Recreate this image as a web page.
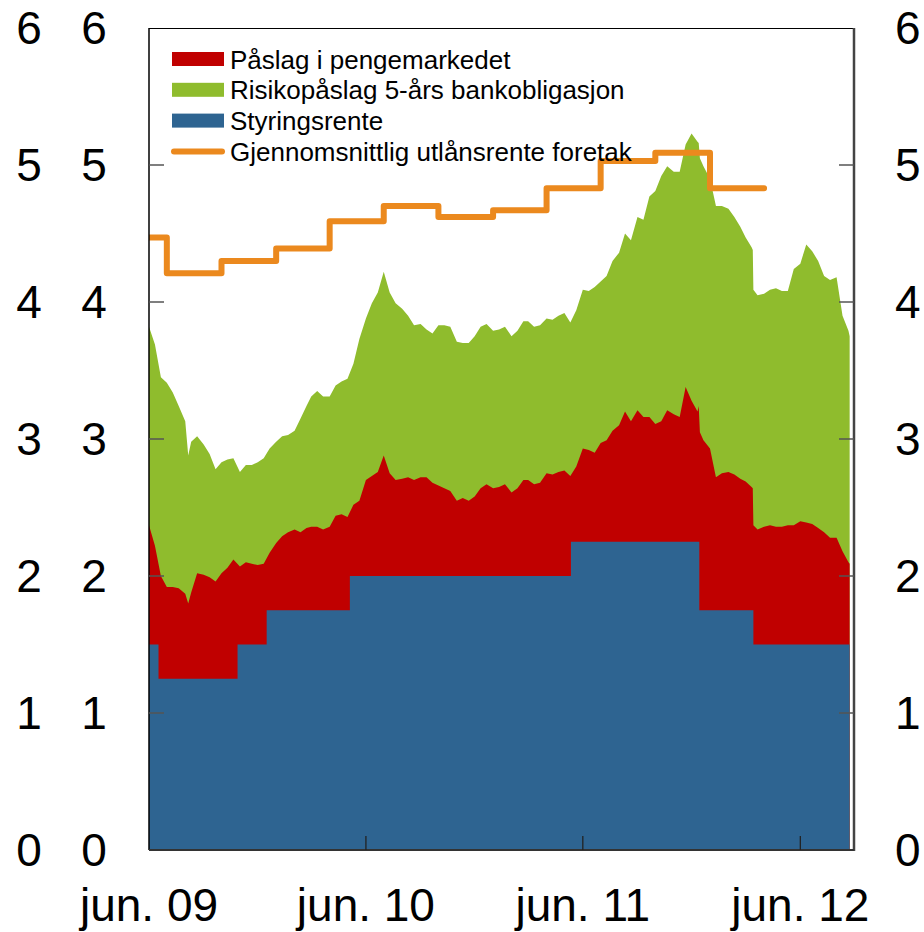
<!DOCTYPE html>
<html>
<head>
<meta charset="utf-8">
<script src="https://cdn.jsdelivr.net/npm/d3@7"></script>
<style>
  body { margin: 0; background: #fff; }
  svg { display: block; font-family: Arial, "Liberation Sans", sans-serif; }
</style>
</head>
<body>
<div id="chart"></div>
<script>
const sampleDates = [
  "2009-06-01","2009-06-11","2009-06-21","2009-07-01","2009-07-11","2009-07-21","2009-08-01","2009-08-06",
  "2009-08-11","2009-08-21","2009-09-01","2009-09-11","2009-09-21","2009-10-01","2009-10-11","2009-10-21",
  "2009-11-01","2009-11-11","2009-11-21","2009-12-01","2009-12-11","2009-12-21","2010-01-01","2010-01-11",
  "2010-01-21","2010-02-01","2010-02-11","2010-02-21","2010-03-01","2010-03-11","2010-03-21","2010-04-01",
  "2010-04-11","2010-04-21","2010-05-01","2010-05-11","2010-05-21","2010-06-01","2010-06-11","2010-06-21",
  "2010-07-01","2010-07-11","2010-07-21","2010-08-01","2010-08-11","2010-08-21","2010-09-01","2010-09-11",
  "2010-09-21","2010-10-01","2010-10-11","2010-10-21","2010-11-01","2010-11-11","2010-11-21","2010-12-01",
  "2010-12-11","2010-12-21","2011-01-01","2011-01-11","2011-01-21","2011-02-01","2011-02-11","2011-02-21",
  "2011-03-01","2011-03-11","2011-03-21","2011-04-01","2011-04-11","2011-04-21","2011-05-01","2011-05-11",
  "2011-05-21","2011-06-01","2011-06-11","2011-06-21","2011-07-01","2011-07-11","2011-07-21","2011-08-01",
  "2011-08-11","2011-08-21","2011-09-01","2011-09-11","2011-09-21","2011-10-01","2011-10-11","2011-10-21",
  "2011-11-01","2011-11-11","2011-11-21","2011-12-01","2011-12-11","2011-12-13","2011-12-15","2011-12-21",
  "2012-01-01","2012-01-11","2012-01-21","2012-02-01","2012-02-11","2012-02-21","2012-03-01","2012-03-11",
  "2012-03-13","2012-03-14","2012-03-21","2012-04-01","2012-04-11","2012-04-21","2012-05-01","2012-05-11",
  "2012-05-21","2012-06-01","2012-06-11","2012-06-21","2012-07-01","2012-07-11","2012-07-21","2012-08-01",
  "2012-08-11","2012-08-21","2012-08-23"
];

// Påslag i pengemarkedet
const paaslag = [
  0.87,0.72,0.75,0.67,0.67,0.66,0.62,0.55, 0.63,0.77,0.76,0.74,0.71,0.77,0.81,0.87,
  0.57,0.60,0.59,0.58,0.59,0.42,0.49,0.54, 0.57,0.59,0.57,0.60,0.61,0.61,0.59,0.61,
  0.69,0.70,0.68,0.52,0.55,0.70,0.73,0.76, 0.88,0.75,0.70,0.71,0.72,0.70,0.72,0.72,
  0.68,0.66,0.64,0.62,0.55,0.57,0.55,0.58, 0.64,0.67,0.64,0.65,0.67,0.61,0.64,0.70,
  0.70,0.67,0.68,0.75,0.74,0.76,0.77,0.73, 0.55,0.68,0.67,0.65,0.72,0.74,0.81,0.85,
  0.95,0.88,0.96,0.91,0.91,0.86,0.88,0.96, 0.93,0.91,1.13,1.03,0.95,0.99,1.30,1.24,
  1.18,0.97,1.00,1.01,0.99,0.96,0.94,0.90, 0.89,0.87,0.84,0.86,0.87,0.86,0.86,0.87,
  0.87,0.90,0.89,0.88,0.85,0.82,0.78,0.78, 0.68,0.60,0.59
];

// Risikopåslag 5-års bankobligasjon
const risiko = [
  1.45,1.47,1.45,1.49,1.42,1.33,1.26,1.08, 1.10,1.00,0.95,0.90,0.82,0.81,0.79,0.74,
  0.69,0.71,0.72,0.75,0.77,0.76,0.74,0.73, 0.71,0.72,0.83,0.89,0.95,0.99,0.97,0.95,
  0.95,0.97,1.01,1.03,1.18,1.18,1.26,1.31, 1.34,1.32,1.29,1.24,1.18,1.13,1.12,1.08,
  1.09,1.17,1.19,1.20,1.16,1.13,1.15,1.17, 1.18,1.17,1.15,1.15,1.15,1.14,1.15,1.16,
  1.16,1.15,1.15,1.13,1.13,1.14,1.15,1.12, 1.14,1.16,1.16,1.21,1.18,1.20,1.24,1.26,
  1.30,1.32,1.41,1.44,1.61,1.70,1.79,1.78, 1.77,1.79,1.77,1.95,1.97,1.92,2.00,2.00,
  1.97,1.98,1.95,1.92,1.88,1.84,1.78,1.75, 1.74,1.72,1.71,1.70,1.72,1.74,1.72,1.71,
  1.87,1.88,2.03,1.99,1.95,1.87,1.88,1.90, 1.72,1.69,1.66
];

// Styringsrente (rate decisions)
const styringDates = ["2009-06-01","2009-06-17","2009-10-28","2009-12-16","2010-05-05","2011-05-12","2011-12-14","2012-03-14"];
const styringRates = [1.5, 1.25, 1.5, 1.75, 2.0, 2.25, 1.75, 1.5];

// Gjennomsnittlig utlånsrente foretak (quarterly)
const utlanDates = ["2009-04-01","2009-07-01","2009-10-01","2010-01-01","2010-04-01","2010-07-01",
                    "2010-10-01","2011-01-01","2011-04-01","2011-07-01","2011-10-01","2012-01-01"];
const utlanRates = [4.47, 4.21, 4.30, 4.39, 4.59, 4.70, 4.62, 4.67, 4.83, 5.03, 5.09, 4.83];
const utlanEnd = "2012-04-01";

const yTicks = [0, 1, 2, 3, 4, 5, 6];
const xTickDates = ["2009-06-01", "2010-06-01", "2011-06-01", "2012-06-01"];
const xDomain = ["2009-06-01", "2012-09-01"];

const legendLabels = [
  "Påslag i pengemarkedet",
  "Risikopåslag 5-års bankobligasjon",
  "Styringsrente",
  "Gjennomsnittlig utlånsrente foretak",
];

class RateChart {
  constructor(_parentElement) {
    this.parentElement = _parentElement;
    this.initVis();
  }

  initVis() {
    let vis = this;

    vis.width = 924;
    vis.height = 932;
    vis.box = { left: 149, right: 854, top: 28, bottom: 850 };
    vis.colors = { red: "#c00000", green: "#8fbc2d", blue: "#2e6491", orange: "#eb891e" };

    vis.parse = d3.timeParse("%Y-%m-%d");

    vis.svg = d3
      .select("#" + vis.parentElement)
      .append("svg")
      .attr("width", vis.width)
      .attr("height", vis.height);

    vis.x = d3
      .scaleTime()
      .domain(xDomain.map(vis.parse))
      .range([vis.box.left, vis.box.right + 1]);

    vis.y = d3
      .scaleLinear()
      .domain([0, 6])
      .range([vis.box.bottom, vis.box.top]);

    vis.svg
      .append("clipPath")
      .attr("id", "plot-clip")
      .append("rect")
      .attr("x", vis.box.left)
      .attr("y", vis.box.top)
      .attr("width", vis.box.right - vis.box.left)
      .attr("height", vis.box.bottom - vis.box.top);

    vis.plot = vis.svg.append("g").attr("clip-path", "url(#plot-clip)");

    vis.wrangleData();
  }

  wrangleData() {
    let vis = this;

    let rateDates = styringDates.map(vis.parse);
    let bisect = d3.bisector((d) => d).right;
    let policyAt = (date) => styringRates[Math.max(0, bisect(rateDates, date) - 1)];

    vis.samples = sampleDates.map((s, i) => {
      let date = vis.parse(s);
      let base = policyAt(date);
      return {
        date,
        mm: base + paaslag[i],
        total: base + paaslag[i] + risiko[i],
      };
    });

    vis.policy = rateDates.map((d, i) => ({ date: d, value: styringRates[i] }));
    vis.policy.push({
      date: vis.samples[vis.samples.length - 1].date,
      value: styringRates[styringRates.length - 1],
    });

    vis.lending = utlanDates.map((s, i) => ({ date: vis.parse(s), value: utlanRates[i] }));
    vis.lending.push({ date: vis.parse(utlanEnd), value: utlanRates[utlanRates.length - 1] });

    vis.updateVis();
  }

  updateVis() {
    let vis = this;
    let b = vis.box;

    // stacked layers, painted back to front
    vis.plot
      .append("path")
      .datum(vis.samples)
      .attr("fill", vis.colors.green)
      .attr(
        "d",
        d3.area().x((d) => vis.x(d.date)).y0(vis.y(0)).y1((d) => vis.y(d.total))
      );

    vis.plot
      .append("path")
      .datum(vis.samples)
      .attr("fill", vis.colors.red)
      .attr(
        "d",
        d3.area().x((d) => vis.x(d.date)).y0(vis.y(0)).y1((d) => vis.y(d.mm))
      );

    vis.plot
      .append("path")
      .datum(vis.policy)
      .attr("fill", vis.colors.blue)
      .attr(
        "d",
        d3
          .area()
          .curve(d3.curveStepAfter)
          .x((d) => vis.x(d.date))
          .y0(vis.y(0))
          .y1((d) => vis.y(d.value))
      );

    vis.plot
      .append("path")
      .datum(vis.lending)
      .attr("fill", "none")
      .attr("stroke", vis.colors.orange)
      .attr("stroke-width", 6)
      .attr("stroke-linejoin", "round")
      .attr("stroke-linecap", "round")
      .attr(
        "d",
        d3
          .line()
          .curve(d3.curveStepAfter)
          .x((d) => vis.x(d.date))
          .y((d) => vis.y(d.value))
      );

    // frame
    let frame = vis.svg.append("g").attr("class", "frame");
    frame.append("line").attr("x1", b.left).attr("x2", b.right).attr("y1", b.top + 0.5).attr("y2", b.top + 0.5)
      .attr("stroke", "#000").attr("stroke-width", 1);
    frame.append("line").attr("x1", b.left).attr("x2", b.left).attr("y1", b.top).attr("y2", b.bottom)
      .attr("stroke", "#000").attr("stroke-width", 1.5);
    frame.append("line").attr("x1", b.right).attr("x2", b.right).attr("y1", b.top).attr("y2", b.bottom + 1)
      .attr("stroke", "#444").attr("stroke-width", 2.5);
    frame.append("line").attr("x1", b.left).attr("x2", b.right).attr("y1", b.bottom).attr("y2", b.bottom)
      .attr("stroke", "#333").attr("stroke-width", 2);

    // y ticks inside on both sides
    let yTickG = vis.svg.append("g").attr("class", "y-ticks");
    yTickG
      .selectAll(".tick-left")
      .data(yTicks.slice(1, -1))
      .join("line")
      .attr("x1", b.left)
      .attr("x2", b.left + 15)
      .attr("y1", (d) => vis.y(d))
      .attr("y2", (d) => vis.y(d))
      .attr("stroke", "#555")
      .attr("stroke-width", 1.5);
    yTickG
      .selectAll(".tick-right")
      .data(yTicks.slice(1, -1))
      .join("line")
      .attr("x1", b.right - 15)
      .attr("x2", b.right)
      .attr("y1", (d) => vis.y(d))
      .attr("y2", (d) => vis.y(d))
      .attr("stroke", "#555")
      .attr("stroke-width", 1.5);

    // x ticks pointing up
    vis.svg
      .append("g")
      .selectAll("line")
      .data(xTickDates.slice(1).map(vis.parse))
      .join("line")
      .attr("x1", (d) => vis.x(d))
      .attr("x2", (d) => vis.x(d))
      .attr("y1", b.bottom)
      .attr("y2", b.bottom - 14)
      .attr("stroke", "#222")
      .attr("stroke-width", 1.3);

    // y labels: two columns left, one right
    let labelCols = [
      { x: 29, anchor: "middle" },
      { x: 94, anchor: "middle" },
      { x: 895, anchor: "start" },
    ];
    labelCols.forEach((col) => {
      vis.svg
        .append("g")
        .selectAll("text")
        .data(yTicks)
        .join("text")
        .attr("x", col.x)
        .attr("y", (d) => vis.y(d) + 16)
        .attr("text-anchor", col.anchor)
        .attr("font-size", 46)
        .attr("fill", "#000")
        .text((d) => d);
    });

    // x labels
    let fmt = d3.timeFormat("%y");
    vis.svg
      .append("g")
      .selectAll("text")
      .data(xTickDates.map(vis.parse))
      .join("text")
      .attr("x", (d) => vis.x(d))
      .attr("y", 921)
      .attr("text-anchor", "middle")
      .attr("font-size", 46)
      .attr("fill", "#000")
      .text((d) => "jun. " + fmt(d));

    // legend
    let legend = vis.svg.append("g").attr("class", "legend");
    let swatchColors = [vis.colors.red, vis.colors.green, vis.colors.blue];
    legendLabels.forEach((label, i) => {
      let cy = 59 + i * 30.8;
      if (i < 3) {
        legend.append("rect").attr("x", 172).attr("y", cy - 7).attr("width", 52).attr("height", 14)
          .attr("fill", swatchColors[i]);
      } else {
        legend.append("line").attr("x1", 174).attr("x2", 222).attr("y1", cy).attr("y2", cy)
          .attr("stroke", vis.colors.orange).attr("stroke-width", 6).attr("stroke-linecap", "round");
      }
      legend.append("text").attr("x", 230).attr("y", cy + 9.5).attr("font-size", 26)
        .attr("fill", "#000").text(label);
    });
  }
}

new RateChart("chart");
</script>
</body>
</html>
